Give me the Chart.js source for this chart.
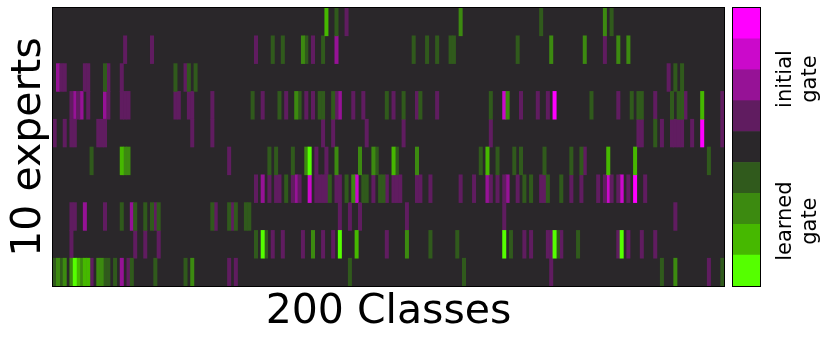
<!DOCTYPE html>
<html lang="en">
<head>
    <meta charset="UTF-8">
    <title>Expert gates</title>
    <script src="https://cdn.jsdelivr.net/npm/chart.js"></script>
    <style>
        body { margin: 0; background: #fff; }
        #wrap { position: relative; width: 830px; height: 339px; overflow: hidden; }
        canvas { position: absolute; top: 0; }
        #heat { left: 0; }
        #bar { left: 728px; }
    </style>
</head>
<body>
<div id="wrap">
    <canvas id="heat" width="728" height="339"></canvas>
    <canvas id="bar" width="102" height="339"></canvas>
</div>
<script>
// [class, level] per expert, level > 0 initial gate, level < 0 learned gate
const expert0 = [[81,-3],[84,-1],[87,1],[121,-2],[145,-1],[164,-2],[166,-1]];
const expert1 = [[21,1],[29,1],[60,1],[65,-1],[68,-1],[74,-2],[75,-1],[77,1],[80,-1],[84,2],[107,-1],[111,-1],[114,-1],[118,-1],[119,-1],[138,-1],[148,-2],[158,-2],[164,1],[168,-2],[171,-2]];
const expert2 = [[1,2],[2,1],[3,1],[9,1],[10,1],[15,-1],[16,1],[20,1],[36,-1],[39,1],[40,-1],[42,-1],[183,1],[185,-1],[187,-1]];
const expert3 = [[5,1],[6,2],[7,1],[8,2],[10,1],[15,2],[16,1],[20,1],[21,1],[22,1],[36,1],[37,1],[40,1],[41,1],[47,1],[59,-1],[62,1],[67,-1],[69,1],[72,-2],[73,-1],[75,1],[77,1],[79,-1],[80,-1],[83,-1],[84,1],[85,2],[89,1],[92,1],[99,-1],[101,1],[104,-1],[108,1],[109,-1],[114,1],[130,-1],[134,3],[135,-2],[139,1],[144,1],[147,1],[149,4],[160,-1],[168,1],[172,-1],[174,-1],[175,-1],[179,1],[184,-1],[186,-1],[187,-1],[188,1],[193,-3],[199,1]];
const expert4 = [[0,1],[3,1],[5,1],[6,1],[13,1],[14,1],[15,1],[41,1],[47,1],[80,1],[83,1],[93,1],[104,1],[130,1],[174,1],[175,1],[179,-1],[181,1],[184,1],[185,1],[186,1],[187,1],[190,1],[193,4],[199,1]];
const expert5 = [[11,-1],[20,-3],[21,-2],[22,-2],[52,1],[64,-1],[66,-1],[71,-1],[75,-2],[76,-4],[78,1],[81,1],[84,-2],[91,-2],[95,-2],[96,-1],[101,-3],[102,-1],[108,-2],[127,-1],[129,-3],[132,-1],[137,-1],[139,-1],[146,-1],[154,-1],[157,-1],[158,1],[165,-3],[173,-3],[195,-1]];
const expert6 = [[60,1],[62,2],[64,1],[66,1],[67,1],[69,-1],[71,1],[72,2],[73,1],[76,3],[78,1],[79,1],[80,1],[81,1],[82,-1],[84,1],[85,1],[87,-1],[89,-2],[90,3],[92,-1],[93,-1],[95,1],[97,-1],[98,-1],[99,1],[101,1],[102,1],[103,1],[108,1],[109,1],[112,1],[121,1],[125,1],[129,2],[130,1],[132,1],[134,1],[135,2],[138,1],[140,-1],[142,-1],[145,1],[146,1],[147,-1],[151,-1],[154,1],[157,1],[162,1],[164,1],[165,3],[166,1],[168,1],[169,3],[171,1],[173,4],[176,1]];
const expert7 = [[5,1],[6,1],[9,2],[15,1],[20,-1],[23,2],[24,-1],[27,-1],[29,-1],[30,1],[31,-1],[47,-1],[48,1],[52,-1],[53,1],[54,-1],[57,-1],[58,-1],[85,1],[88,1],[91,1],[105,1],[134,1],[185,1]];
const expert8 = [[5,1],[24,1],[27,1],[31,1],[60,-1],[62,-4],[63,-1],[65,1],[68,1],[74,1],[77,-2],[80,1],[83,1],[85,-4],[90,-3],[99,1],[105,-2],[112,-1],[120,-1],[134,-4],[136,-1],[140,1],[142,1],[147,1],[148,1],[149,-4],[150,-1],[151,1],[156,-1],[168,1],[169,-4],[171,1],[175,1],[179,1]];
const expert9 = [[0,-1],[1,-2],[2,-1],[3,-2],[5,-2],[6,-4],[7,-3],[8,-2],[9,-3],[10,-3],[11,1],[13,-2],[14,-2],[15,-1],[16,-1],[18,-1],[20,2],[22,1],[23,-1],[30,-1],[39,-1],[41,-2],[52,1],[54,1],[88,-1],[122,-1],[148,1],[181,-1],[185,-2],[195,1],[199,-1]];
const experts = [expert0, expert1, expert2, expert3, expert4, expert5, expert6, expert7, expert8, expert9];

const levels = [-4, -3, -2, -1, 0, 1, 2, 3, 4];
const levelColors = ['#55ff00', '#46b800', '#3c8a10', '#305a1c', '#2a272a', '#601c60', '#961296', '#cb09cb', '#ff00ff'];
const classes = Array.from({length: 200}, (_, i) => i);

const barTickPos = [-2.4, 2.2];
const barTickText = [['learned', 'gate'], ['initial', 'gate']];

// fills the "no gate" colour behind the bars and strokes the frame
const framePlugin = {
    id: 'frame',
    beforeDatasetsDraw(chart) {
        const a = chart.chartArea;
        if (chart.canvas.id === 'heat') {
            chart.ctx.fillStyle = levelColors[4];
            chart.ctx.fillRect(a.left, a.top, a.width, a.height);
        }
    },
    afterDraw(chart) {
        const a = chart.chartArea;
        chart.ctx.strokeStyle = '#000';
        chart.ctx.lineWidth = 1;
        chart.ctx.strokeRect(a.left - 0.5, a.top - 0.5, a.width + 1, a.height + 1);
    }
};

const heatSets = levels.filter(l => l !== 0).map(l => {
    const pts = [];
    experts.forEach((row, r) => row.forEach(c => {
        if (c[1] === l) pts.push({x: c[0], y: [r, r + 1]});
    }));
    return {
        data: pts,
        backgroundColor: levelColors[levels.indexOf(l)],
        barPercentage: 1,
        categoryPercentage: 1,
        grouped: false
    };
});

new Chart(document.getElementById('heat'), {
    type: 'bar',
    data: {labels: classes, datasets: heatSets},
    plugins: [framePlugin],
    options: {
        responsive: false,
        animation: false,
        layout: {padding: {top: 8, right: 4}},
        plugins: {legend: {display: false}, tooltip: {enabled: false}},
        scales: {
            x: {
                grid: {display: false},
                border: {display: false},
                ticks: {display: false},
                title: {display: true, text: '200 Classes', color: '#000', padding: {top: 0, bottom: 2},
                    font: {family: 'DejaVu Sans', size: 41}},
                afterFit(s) { s.height = 53; }
            },
            y: {
                min: 0,
                max: 10,
                reverse: true,
                grid: {display: false},
                border: {display: false},
                ticks: {display: false},
                title: {display: true, text: '10 experts', color: '#000', padding: {top: 5, bottom: 0},
                    font: {family: 'DejaVu Sans', size: 41}},
                afterFit(s) { s.width = 53; }
            }
        }
    }
});

new Chart(document.getElementById('bar'), {
    type: 'bar',
    data: {
        labels: ['gate'],
        datasets: levels.map((l, i) => ({
            data: [[l - 0.5, l + 0.5]],
            backgroundColor: levelColors[i],
            barPercentage: 1,
            categoryPercentage: 1,
            grouped: false
        }))
    },
    plugins: [framePlugin],
    options: {
        responsive: false,
        animation: false,
        layout: {padding: {top: 8, bottom: 53, left: 5}},
        plugins: {legend: {display: false}, tooltip: {enabled: false}},
        scales: {
            x: {display: false},
            y: {
                position: 'right',
                min: -4.5,
                max: 4.5,
                grid: {display: false},
                border: {display: false},
                afterBuildTicks(s) { s.ticks = barTickPos.map(v => ({value: v})); },
                afterFit(s) { s.width = 70; s.paddingTop = 0; s.paddingBottom = 0; },
                ticks: {
                    color: '#000',
                    minRotation: 90,
                    maxRotation: 90,
                    crossAlign: 'center',
                    padding: -10,
                    font: {family: 'DejaVu Sans', size: 21},
                    callback: v => barTickText[barTickPos.indexOf(v)]
                }
            }
        }
    }
});
</script>
</body>
</html>
